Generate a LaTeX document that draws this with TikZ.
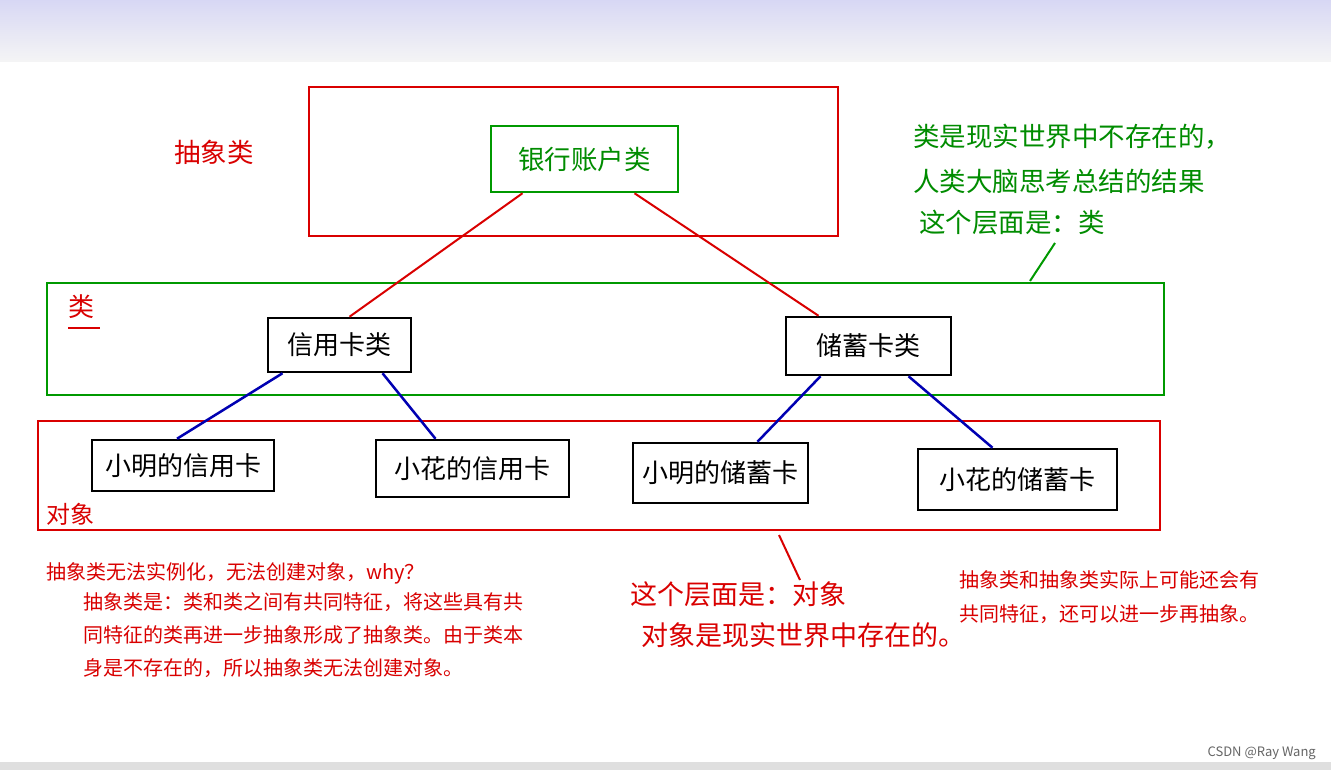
\documentclass[tikz,border=0pt]{standalone}
\usepackage{fontspec}
\setmainfont{Noto Sans CJK SC}
\begin{document}
\begin{tikzpicture}[x=1pt,y=-1pt,
  lbox/.style={draw=black,line width=2.5pt,inner sep=0pt,font=\fontsize{26}{30}\selectfont},
  rtxt/.style={text=red!85!black,anchor=west,inner sep=0pt},
  gtxt/.style={text=green!55!black,anchor=west,inner sep=0pt,font=\fontsize{26.5}{30}\selectfont},
  rline/.style={draw=red!85!black,line width=2pt},
  bline/.style={draw=blue!70!black,line width=2.5pt}]
\useasboundingbox (0,0) rectangle (1331,770);
\fill[white] (0,0) rectangle (1331,770);
\shade[top color=gray!45!blue!20, bottom color=gray!8] (0,0) rectangle (1331,62);
\fill[gray!25] (0,762) rectangle (1331,770);
% frames
\draw[rline,line width=2.5pt] (309,87) rectangle (838,236);
\draw[draw=green!60!black,line width=2.5pt] (47,283) rectangle (1164,395);
\draw[rline,line width=2.5pt] (38,421) rectangle (1160,530);
% nodes
\node[draw=green!60!black,line width=2.5pt,minimum width=187pt,minimum height=66pt,text=green!55!black,font=\fontsize{26.5}{30}\selectfont] (bank) at (584.5,159) {银行账户类};
\node[lbox,minimum width=143pt,minimum height=54pt] (credit) at (339.5,345) {信用卡类};
\node[lbox,minimum width=165pt,minimum height=58pt] (debit) at (868.5,346) {储蓄卡类};
\node[lbox,minimum width=182pt,minimum height=51pt] (c1) at (183,465.5) {小明的信用卡};
\node[lbox,minimum width=193pt,minimum height=57pt] (c2) at (472.5,468.5) {小花的信用卡};
\node[lbox,minimum width=175pt,minimum height=60pt] (d1) at (720.5,473) {小明的储蓄卡};
\node[lbox,minimum width=199pt,minimum height=61pt] (d2) at (1017.5,479.5) {小花的储蓄卡};
% connectors
\draw[rline] ([xshift=-62pt]bank.south) -- ([xshift=10pt]credit.north);
\draw[rline] ([xshift=50pt]bank.south) -- ([xshift=-50pt]debit.north);
\draw[bline] ([xshift=-57pt]credit.south) -- ([xshift=-6pt]c1.north);
\draw[bline] ([xshift=43pt]credit.south) -- ([xshift=-37pt]c2.north);
\draw[bline] ([xshift=-48pt]debit.south) -- ([xshift=37pt]d1.north);
\draw[bline] ([xshift=40pt]debit.south) -- ([xshift=-25pt]d2.north);
% labels
\node[rtxt,font=\fontsize{26.5}{30}\selectfont] (t1) at (174,152) {抽象类};
\node[rtxt,font=\fontsize{26}{30}\selectfont] (t2) at (68,307) {类};
\draw[rline,line width=1.5pt] (68,328) -- (100,328);
\node[rtxt,font=\fontsize{24}{28}\selectfont] (t3) at (46,514) {对象};
\node[gtxt] (g1) at (913,137) {类是现实世界中不存在的，};
\node[gtxt] (g2) at (913,181) {人类大脑思考总结的结果};
\node[gtxt] (g3) at (919,222) {这个层面是：类};
\coordinate (ga) at (1055,243); \coordinate (gb) at (1030,281);
\draw[draw=green!60!black,line width=2pt] (ga) -- (gb);
\coordinate (ra) at (779,535); \coordinate (rb) at (800,580);
\draw[rline] (ra) -- (rb);
\node[rtxt,font=\fontsize{20}{24}\selectfont] (a1) at (46,573) {抽象类无法实例化，无法创建对象，why？};
\node[rtxt,font=\fontsize{20}{24}\selectfont] (a2) at (83,602) {抽象类是：类和类之间有共同特征，将这些具有共};
\node[rtxt,font=\fontsize{20}{24}\selectfont] (a3) at (83,635) {同特征的类再进一步抽象形成了抽象类。由于类本};
\node[rtxt,font=\fontsize{20}{24}\selectfont] (a4) at (83,668) {身是不存在的，所以抽象类无法创建对象。};
\node[rtxt,font=\fontsize{27}{31}\selectfont] (o1) at (630,594) {这个层面是：对象};
\node[rtxt,font=\fontsize{27}{31}\selectfont] (o2) at (641,635) {对象是现实世界中存在的。};
\node[rtxt,font=\fontsize{20}{24}\selectfont] (r1) at (959,580) {抽象类和抽象类实际上可能还会有};
\node[rtxt,font=\fontsize{20}{24}\selectfont] (r2) at (959,614) {共同特征，还可以进一步再抽象。};
\node[anchor=east,text=gray!80!black,font=\fontsize{13}{15}\selectfont,inner sep=0pt] (csdn) at (1316,753) {CSDN @Ray Wang};
\end{tikzpicture}
\end{document}
